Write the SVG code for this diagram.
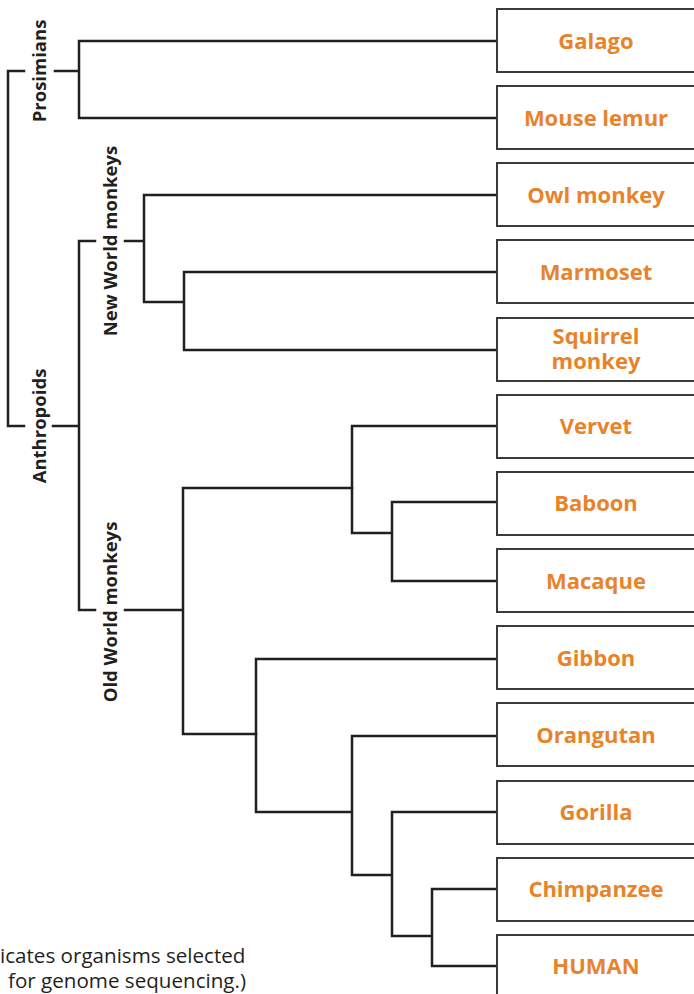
<svg xmlns="http://www.w3.org/2000/svg" width="694" height="994" viewBox="0 0 694 994">
<style>
.ln{fill:none;stroke:#231f20;stroke-width:2.5;stroke-linecap:square;stroke-linejoin:miter}
.box{fill:#fff;stroke:#3a3a3a;stroke-width:2}
.lbl{font-family:"Open Sans","Noto Sans",sans-serif;font-weight:700;font-size:22px;fill:#e8832a;text-anchor:middle}
.grp{font-family:"Open Sans","Noto Sans",sans-serif;font-weight:700;font-size:18.5px;fill:#231f20;text-anchor:middle}
.note{font-family:"Open Sans","Noto Sans",sans-serif;font-size:20.6px;fill:#231f20}
</style>
<rect width="694" height="994" fill="#fff"/>
<g id="connectors">
<path class="ln" d="M24,71 H8 V426 H24"/>
<path class="ln" d="M55,71 H79 M497,41 H79 V118 H497"/>
<path class="ln" d="M53,426 H79 M95,241 H79 V610 H95"/>
<path class="ln" d="M125,241 H144 M497,195 H144 V302 H184 M497,272 H184 V350 H497"/>
<path class="ln" d="M125,610 H183 M352,488 H183 V734 H256"/>
<path class="ln" d="M497,426 H352 V533 H392 M497,502 H392 V581 H497"/>
<path class="ln" d="M497,659 H256 V812 H352 M497,736 H352 V875 H392 M497,812 H392 V936 H432 M497,889 H432 V966 H497"/>
</g>
<g id="labels">
<text class="grp" transform="translate(46,71) rotate(-90)">Prosimians</text>
<text class="grp" transform="translate(46,426) rotate(-90)">Anthropoids</text>
<text class="grp" transform="translate(117,241) rotate(-90)">New World monkeys</text>
<text class="grp" transform="translate(117,612) rotate(-90)">Old World monkeys</text>
</g>
<g id="galago"><rect class="box" x="497" y="9" width="200" height="63"/><text class="lbl" x="596" y="49">Galago</text></g>
<g id="mouse-lemur"><rect class="box" x="497" y="86" width="200" height="63"/><text class="lbl" x="596" y="126">Mouse lemur</text></g>
<g id="owl-monkey"><rect class="box" x="497" y="163" width="200" height="63"/><text class="lbl" x="596" y="203">Owl monkey</text></g>
<g id="marmoset"><rect class="box" x="497" y="240" width="200" height="63"/><text class="lbl" x="596" y="280">Marmoset</text></g>
<g id="squirrel-monkey"><rect class="box" x="497" y="318" width="200" height="63"/><text class="lbl" x="596" y="344">Squirrel</text><text class="lbl" x="596" y="369">monkey</text></g>
<g id="vervet"><rect class="box" x="497" y="395" width="200" height="63"/><text class="lbl" x="596" y="434">Vervet</text></g>
<g id="baboon"><rect class="box" x="497" y="472" width="200" height="63"/><text class="lbl" x="596" y="511">Baboon</text></g>
<g id="macaque"><rect class="box" x="497" y="549" width="200" height="63"/><text class="lbl" x="596" y="589">Macaque</text></g>
<g id="gibbon"><rect class="box" x="497" y="626" width="200" height="63"/><text class="lbl" x="596" y="666">Gibbon</text></g>
<g id="orangutan"><rect class="box" x="497" y="703" width="200" height="63"/><text class="lbl" x="596" y="743">Orangutan</text></g>
<g id="gorilla"><rect class="box" x="497" y="781" width="200" height="63"/><text class="lbl" x="596" y="820">Gorilla</text></g>
<g id="chimpanzee"><rect class="box" x="497" y="858" width="200" height="63"/><text class="lbl" x="596" y="897">Chimpanzee</text></g>
<g id="human"><rect class="box" x="497" y="935" width="200" height="63"/><text class="lbl" x="596" y="974">HUMAN</text></g>
<g id="note">
<text class="note" x="0" y="963">icates organisms selected</text>
<text class="note" x="8" y="988">for genome sequencing.)</text>
</g>
</svg>
